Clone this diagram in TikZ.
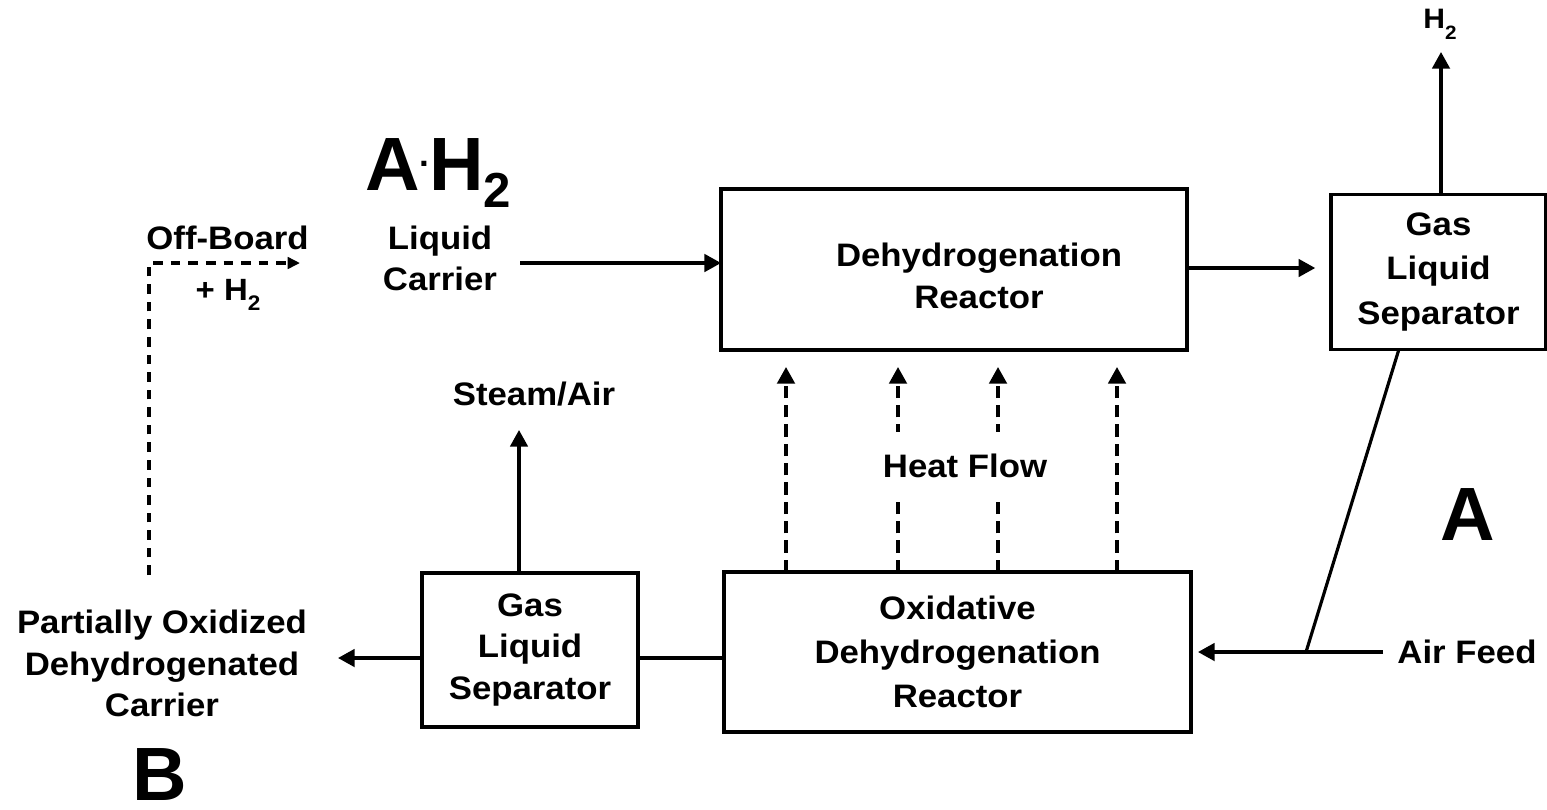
\documentclass[tikz,border=0pt]{standalone}
\usepackage{fontspec}
\setmainfont{Liberation Sans}[FakeStretch=1.07]
\newfontfamily\bigfont{Liberation Sans}
\usetikzlibrary{arrows.meta}
\begin{document}
\begin{tikzpicture}[x=0.02cm,y=-0.02cm,
  every node/.style={font=\bfseries\fontsize{18.5}{23.5}\selectfont, inner sep=0pt, outer sep=0pt},
  box/.style={draw, line width=1.9pt, align=center},
  lbl/.style={align=center},
  arr/.style={line width=1.8pt, -{Triangle[length=9.5pt,width=10pt]}},
  ln/.style={line width=1.8pt},
  heat/.style={line width=1.9pt, dash pattern=on 7pt off 4pt, -{Triangle[length=9.5pt,width=10pt]}},
  offb/.style={line width=1.8pt, dash pattern=on 5.5pt off 4.5pt, -{Triangle[length=7pt,width=6.5pt]}},
  big/.style={font=\bigfont\bfseries\fontsize{43}{50}\selectfont, anchor=base}
]
\useasboundingbox (0,0) rectangle (1547,809);

% boxes
\node[box, minimum width=9.32cm, minimum height=3.22cm] (dr) at (954,269.5) {};
\node[lbl] (drt) at (979,276) {Dehydrogenation\\Reactor};
\node[box, minimum width=9.34cm, minimum height=3.2cm, font=\bfseries\fontsize{18.5}{25}\selectfont] (ox) at (957.5,652) {Oxidative\\Dehydrogenation\\Reactor};
\node[box, minimum width=4.3cm, minimum height=3.1cm, font=\bfseries\fontsize{18.5}{25.5}\selectfont] (gsr) at (1438.5,272) {Gas\\Liquid\\Separator};
\node[box, minimum width=4.32cm, minimum height=3.08cm] (gsl) at (530,650) {Gas\\Liquid\\Separator};

% labels
\node[lbl] (ob) at (227.5,238) {Off-Board};
\node[anchor=base, font=\bfseries\fontsize{17.5}{20}\selectfont] (plus) at (228,300) {+ H\raisebox{-5.7pt}{\fontsize{12}{12}\selectfont 2}};
\node[lbl] (lc) at (440,258.5) {Liquid\\Carrier};
\node[big, anchor=base west] (ah) at (365,190) {A\raisebox{13.6pt}{\fontsize{20}{20}\selectfont .}H\raisebox{-10pt}{\fontsize{28}{30}\selectfont 2}};
\node[lbl] (poc) at (162,663.5) {Partially Oxidized\\Dehydrogenated\\Carrier};
\node[big] (B) at (160,800) {B};
\node[big] (A) at (1468,540) {A};
\node[lbl] (sa) at (534,394) {Steam/Air};
\node[lbl] (af) at (1467,651.5) {Air Feed};
\node[anchor=base, font=\bfseries\fontsize{16}{18}\selectfont] (h2) at (1440,28) {H\raisebox{-6.5pt}{\fontsize{11}{12}\selectfont 2}};

% coordinates
\coordinate (lcs) at (520,263);
\coordinate (drl) at (1200,268);
\coordinate (h2tip) at (1441,52);
\coordinate (afs) at (1383,652);
\coordinate (ds) at (1399,349);
\coordinate (dj) at (1306,652);
\coordinate (sat) at (519,430);
\coordinate (gl) at (680,658);
\coordinate (pot) at (338,658);
\coordinate (obb) at (149,575);
\coordinate (obc) at (149,263);
\coordinate (obt) at (300,263);
\coordinate (h1) at (786,367);
\coordinate (h2c) at (898,367);
\coordinate (h3) at (998,367);
\coordinate (h4) at (1117,367);

% connectors
\draw[arr] (lcs) -- (lcs -| dr.west);
\draw[arr, shorten >=9pt] (dr.east |- drl) -- (gsr.west |- drl);
\draw[arr] (gsr.north -| h2tip) -- (h2tip);
\draw[arr, shorten >=4pt] (afs) -- (afs -| ox.east);
\draw[ln] (ds) -- (dj);
\draw[arr] (gsl.north -| sat) -- (sat);
\draw[ln] (gsl.east |- gl) -- (ox.west |- gl);
\draw[arr] (gsl.west |- gl) -- (pot);
\draw[offb] (obb) -- (obc) -- (obt);
\draw[heat] (ox.north -| h1) -- (h1);
\draw[heat] (ox.north -| h2c) -- (h2c);
\draw[heat] (ox.north -| h3) -- (h3);
\draw[heat] (ox.north -| h4) -- (h4);
\node[fill=white, minimum height=1.36cm] (hf) at (965,466) {Heat Flow};
\end{tikzpicture}
\end{document}
